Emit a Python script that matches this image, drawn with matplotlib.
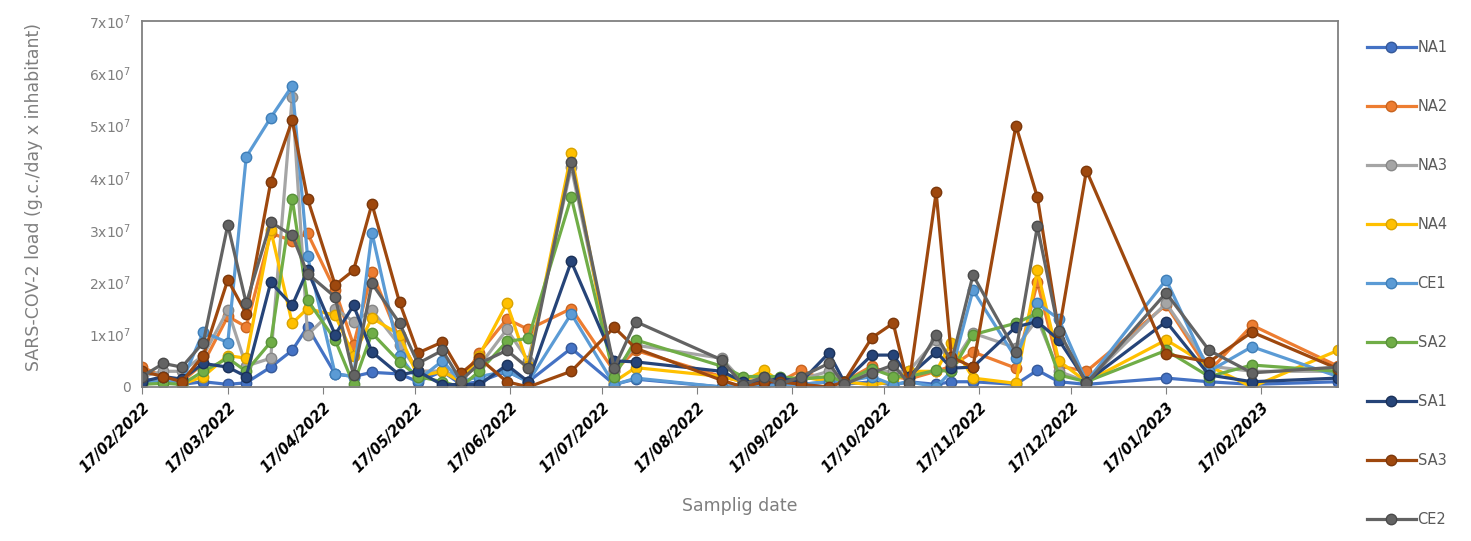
import numpy as np
import pandas as pd
import matplotlib
matplotlib.use('Agg')
import matplotlib.pyplot as plt
import matplotlib.dates as mdates
from matplotlib.ticker import FixedLocator, FuncFormatter

# sampling dates
dates = ['2022-02-17', '2022-02-24', '2022-03-02', '2022-03-09', '2022-03-17',
         '2022-03-23', '2022-03-31', '2022-04-07', '2022-04-12', '2022-04-21',
         '2022-04-27', '2022-05-03', '2022-05-12', '2022-05-18', '2022-05-26',
         '2022-06-01', '2022-06-07', '2022-06-16', '2022-06-23', '2022-07-07',
         '2022-07-21', '2022-07-28', '2022-08-25', '2022-09-01', '2022-09-08',
         '2022-09-13', '2022-09-20', '2022-09-29', '2022-10-04', '2022-10-13',
         '2022-10-20', '2022-10-25', '2022-11-03', '2022-11-08', '2022-11-15',
         '2022-11-29', '2022-12-06', '2022-12-13', '2022-12-22', '2023-01-17',
         '2023-01-31', '2023-02-14', '2023-03-14']

# loads in units of 1e7 g.c./day x inhabitant
NA1 = [0.15, 0.1, 0.05, 0.1, 0.05, 0.08, 0.38, 0.7, 1.15, 0.25, 0.2, 0.28, 0.25, 0.1,
       0.3, 0.05, 0.1, 0.3, 0.1, 0.74, 0.05, 0.15, 0.0, 0.05, 0.05, 0.1, 0.05, 0.1,
       0.05, 0.1, 0.04, 0.1, 0.05, 0.1, 0.1, 0.05, 0.32, 0.1, 0.05, 0.17, 0.1, 0.05, 0.1]
NA2 = [0.38, 0.2, 0.1, 0.45, 1.35, 1.15, 2.94, 2.8, 2.94, 1.85, 0.8, 2.2, 0.9, 0.3,
       0.3, 0.1, 0.65, 1.3, 1.1, 1.5, 0.3, 0.7, 0.2, 0.1, 0.2, 0.1, 0.32, 0.1,
       0.1, 0.4, 0.2, 0.15, 0.3, 0.4, 0.67, 0.36, 2.0, 0.4, 0.3, 1.57, 0.3, 1.18, 0.4]
NA3 = [0.2, 0.3, 0.3, 0.6, 1.47, 0.4, 0.55, 5.55, 1.0, 1.5, 1.25, 1.47, 0.8, 0.3,
       0.3, 0.2, 0.4, 1.1, 0.5, 4.2, 0.3, 0.8, 0.55, 0.1, 0.2, 0.1, 0.15, 0.3,
       0.1, 0.3, 0.3, 0.3, 0.9, 0.4, 1.03, 0.75, 1.3, 0.3, 0.1, 1.6, 0.4, 0.3, 0.3]
NA4 = [0.1, 0.1, 0.05, 0.2, 0.6, 0.55, 3.0, 1.22, 1.5, 1.37, 0.6, 1.32, 1.0, 0.2,
       0.3, 0.1, 0.6, 1.6, 0.4, 4.47, 0.1, 0.37, 0.2, 0.1, 0.32, 0.1, 0.2, 0.1,
       0.1, 0.04, 0.1, 0.3, 0.3, 0.85, 0.17, 0.07, 2.23, 0.5, 0.1, 0.9, 0.4, 0.0, 0.7]
CE1 = [0.1, 0.1, 0.1, 1.05, 0.85, 4.4, 5.15, 5.76, 2.5, 0.25, 0.2, 2.95, 0.6, 0.13,
       0.5, 0.1, 0.2, 0.3, 0.1, 1.4, 0.04, 0.17, 0.0, 0.05, 0.0, 0.05, 0.05, 0.1,
       0.1, 0.2, 0.04, 0.1, 0.0, 0.3, 1.85, 0.55, 1.6, 1.3, 0.1, 2.05, 0.3, 0.77, 0.2]
SA2 = [0.05, 0.07, 0.05, 0.3, 0.55, 0.3, 0.86, 3.6, 1.66, 0.9, 0.05, 1.03, 0.48, 0.2,
       0.1, 0.0, 0.3, 0.87, 0.93, 3.63, 0.2, 0.9, 0.4, 0.2, 0.2, 0.2, 0.15, 0.2,
       0.1, 0.35, 0.2, 0.2, 0.32, 0.3, 1.0, 1.22, 1.41, 0.23, 0.1, 0.7, 0.2, 0.42, 0.3]
SA1 = [0.1, 0.2, 0.15, 0.45, 0.38, 0.2, 2.0, 1.56, 2.23, 1.0, 1.56, 0.67, 0.23, 0.3,
       0.04, 0.05, 0.04, 0.42, 0.1, 2.4, 0.5, 0.48, 0.3, 0.1, 0.1, 0.17, 0.1, 0.65,
       0.1, 0.61, 0.61, 0.2, 0.67, 0.36, 0.38, 1.15, 1.25, 0.9, 0.1, 1.25, 0.23, 0.1, 0.17]
SA3 = [0.3, 0.2, 0.1, 0.6, 2.05, 1.4, 3.92, 5.1, 3.6, 1.95, 2.23, 3.5, 1.62, 0.65,
       0.86, 0.26, 0.55, 0.1, 0.0, 0.3, 1.14, 0.74, 0.13, 0.0, 0.1, 0.1, 0.05, 0.0,
       0.1, 0.94, 1.22, 0.0, 3.72, 0.57, 0.38, 5.0, 3.63, 1.05, 4.14, 0.63, 0.48, 1.05, 0.35]
CE2 = [0.2, 0.45, 0.38, 0.85, 3.1, 1.6, 3.15, 2.9, 2.17, 1.72, 0.22, 1.98, 1.22, 0.45,
       0.7, 0.12, 0.45, 0.7, 0.36, 4.3, 0.36, 1.25, 0.52, 0.04, 0.2, 0.05, 0.2, 0.45,
       0.05, 0.27, 0.42, 0.08, 1.0, 0.48, 2.14, 0.67, 3.07, 1.07, 0.07, 1.8, 0.7, 0.27, 0.38]

names = ['NA1', 'NA2', 'NA3', 'NA4', 'CE1', 'SA2', 'SA1', 'SA3', 'CE2']
series = [NA1, NA2, NA3, NA4, CE1, SA2, SA1, SA3, CE2]
colors = ['#4472C4', '#ED7D31', '#A5A5A5', '#FFC000', '#5B9BD5',
          '#70AD47', '#264478', '#9E480E', '#636363']
edges = ['#35599a', '#c9641f', '#878787', '#d9a300', '#3f7fb8',
         '#58903a', '#1b3158', '#7c380b', '#4a4a4a']

x = pd.to_datetime(dates)

fig = plt.figure(figsize=(14.71, 5.41), dpi=100)
ax = fig.add_axes([0.0965, 0.2847, 0.813, 0.6765])

for name, vals, c, ec in zip(names, series, colors, edges):
    ax.plot(x, np.array(vals) * 1e7, color=c, lw=2.3, marker='o', ms=7.5,
            mfc=c, mec=ec, mew=1.0, label=name)

ax.set_xlim(pd.Timestamp('2022-02-17'), pd.Timestamp('2023-03-14'))
ax.set_ylim(0, 7e7)

# ticks on the 17th of every month
ticks = pd.date_range('2022-02-01', '2023-02-01', freq='MS') + pd.Timedelta(days=16)
ax.xaxis.set_major_locator(FixedLocator(mdates.date2num(ticks)))
ax.xaxis.set_major_formatter(mdates.DateFormatter('%d/%m/%Y'))
plt.setp(ax.get_xticklabels(), rotation=45, ha='right', va='top',
         rotation_mode='anchor', fontsize=10.5, fontweight='bold', fontstyle='italic')
ax.tick_params(axis='x', length=5, color='#808080', pad=4)

ax.yaxis.set_major_locator(FixedLocator(np.arange(0, 8) * 1e7))
ax.yaxis.set_major_formatter(FuncFormatter(
    lambda v, p: '0' if v == 0 else '%dx10$^{7}$' % round(v / 1e7)))
ax.tick_params(axis='y', length=0, labelsize=10, labelcolor='#7f7f7f', pad=8)

for s in ax.spines.values():
    s.set_color('#808080')
    s.set_linewidth(1.3)

ax.set_ylabel('SARS-COV-2 load (g.c./day x inhabitant)', fontsize=12.5, color='#7f7f7f')
ax.yaxis.set_label_coords(-0.083, 0.52)
fig.text(0.503, 0.055, 'Samplig date', fontsize=12.5, color='#7f7f7f', ha='center')

leg = ax.legend(loc='upper left', bbox_to_anchor=(0.925, 0.937), bbox_transform=fig.transFigure,
                frameon=False, fontsize=10.5, labelspacing=3.02, handlelength=3.4,
                handletextpad=0.1, borderaxespad=0)
for t in leg.get_texts():
    t.set_color('#595959')

plt.savefig('out.png', dpi=100)
